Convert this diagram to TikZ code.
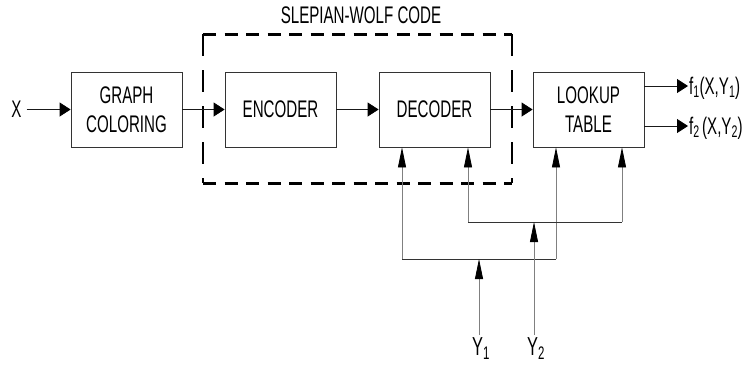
\documentclass[tikz,border=0pt]{standalone}
\usepackage{fontspec}
\setmainfont{Liberation Sans}
\usepackage{graphicx}
\usetikzlibrary{arrows.meta}
\newcommand{\sq}[1]{\scalebox{0.63}[1]{#1}}
\begin{document}
\begin{tikzpicture}[x=1pt,y=-1pt,
  every node/.style={font=\fontsize{24}{29}\selectfont},
  box/.style={draw=black!80, line width=0.8pt, minimum width=111pt, minimum height=75pt, inner sep=0pt, align=center},
  harrow/.style={line width=0.8pt, draw=black!90, -{Triangle[length=11pt,width=14pt,color=black]}},
  varrow/.style={line width=0.8pt, draw=black!50, -{Triangle[length=20pt,width=8pt,color=black]}},
  bus/.style={line width=0.8pt, draw=black!80},
  hdash/.style={line width=3pt, dash pattern=on 13pt off 8.5pt},
  vdash/.style={line width=2pt, dash pattern=on 22pt off 14pt},
  lbl/.style={inner sep=2pt},
  ylbl/.style={anchor=north, inner sep=2pt, xshift=2pt, font=\fontsize{26}{30}\selectfont}
]
\useasboundingbox (0,0) rectangle (754,373);
% dashed Slepian-Wolf frame
\coordinate (tl) at (203,34);
\coordinate (tr) at (512,34);
\coordinate (bl) at (203,183);
\coordinate (br) at (512,183);
\draw[hdash] (tl) -- (tr);
\draw[hdash] (bl) -- (br);
\draw[vdash] (tl) -- (bl);
\draw[vdash] (tr) -- (br);
\node[lbl] (sw) at (361,15) {\sq{SLEPIAN-WOLF CODE}};
% boxes
\node[box] (gc)  at (126.5,109.5) {\sq{GRAPH}\\\sq{COLORING}};
\node[box] (enc) at (280.5,109.5) {\sq{ENCODER}};
\node[box] (dec) at (434.5,109.5) {\sq{DECODER}};
\node[box] (lut) at (588.5,109.5) {\sq{LOOKUP}\\\sq{TABLE}};
% input
\node[inner sep=5pt] (X) at (16.5,109.5) {\sq{X}};
\draw[harrow] (X) -- (gc);
\draw[harrow] (gc) -- (enc);
\draw[harrow] (enc) -- (dec);
\draw[harrow] (dec) -- (lut);
% outputs
\node[anchor=west, inner sep=1pt] (f1) at (688,88) {\sq{f\textsubscript{1}(X,Y\textsubscript{1})}};
\node[anchor=west, inner sep=1pt] (f2) at (688,128) {\sq{f\textsubscript{2}\,(X,Y\textsubscript{2})}};
\draw[harrow] (lut.east |- 0,86) -- (f1.west |- 0,86);
\draw[harrow] (lut.east |- 0,126) -- (f2.west |- 0,126);
% side information buses
\coordinate (b1l) at (402,259);
\coordinate (b1r) at (556,259);
\coordinate (b2l) at (468,222);
\coordinate (b2r) at (622,222);
\draw[varrow] (b1l) -- (b1l |- dec.south);
\draw[varrow] (b2l) -- (b2l |- dec.south);
\draw[varrow] (b1r) -- (b1r |- lut.south);
\draw[varrow] (b2r) -- (b2r |- lut.south);
\draw[bus] (b1l) -- (b1r);
\draw[bus] (b2l) -- (b2r);
% Y inputs
\coordinate (y1) at (479,335);
\coordinate (y2) at (534,335);
\node[ylbl] (Y1) at (y1) {\sq{Y\textsubscript{1}}};
\node[ylbl] (Y2) at (y2) {\sq{Y\textsubscript{2}}};
\draw[varrow] (y1) -- (y1 |- b1l);
\draw[varrow] (y2) -- (y2 |- b2l);
\end{tikzpicture}
\end{document}
